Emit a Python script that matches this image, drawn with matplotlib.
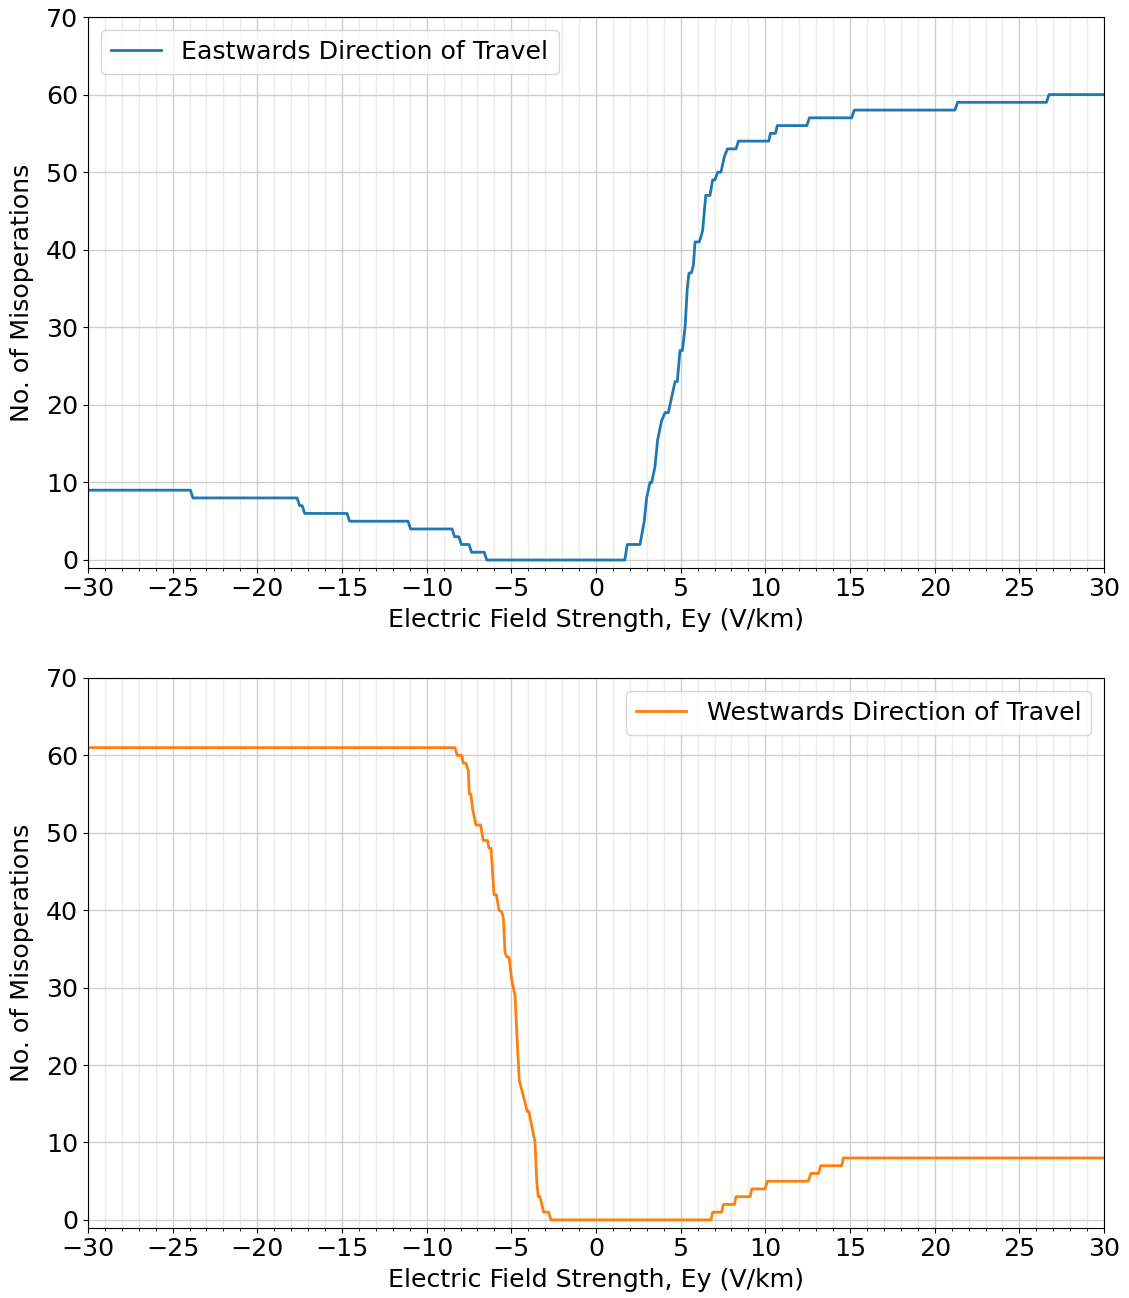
import matplotlib
matplotlib.use("Agg")
import matplotlib.pyplot as plt
from matplotlib.ticker import MultipleLocator

# Cumulative misoperation counts versus geoelectric field strength Ey (V/km)
east_ey = [-30, -23.95, -23.8, -17.65, -17.5, -17.35, -17.2, -14.7, -14.55,
           -11.1, -10.95, -8.5, -8.35, -8.1, -7.95, -7.5, -7.35, -6.6, -6.45,
           1.7, 1.85, 2.6, 2.85, 2.99, 3.19, 3.29, 3.48, 3.64, 3.88, 4.08,
           4.27, 4.47, 4.67, 4.8, 4.96, 5.1, 5.26, 5.39, 5.49, 5.63, 5.75,
           5.85, 6.1, 6.24, 6.3, 6.48, 6.73, 6.89, 7.02, 7.19, 7.38, 7.58,
           7.76, 8.27, 8.41, 10.2, 10.3, 10.6, 10.7, 12.45, 12.6, 15.1, 15.25,
           21.2, 21.35, 26.6, 26.75, 30]
east_count = [9, 9, 8, 8, 7, 7, 6, 6, 5,
              5, 4, 4, 3, 3, 2, 2, 1, 1, 0,
              0, 2, 2, 5, 8, 10, 10, 12, 15.5, 18, 19,
              19, 21, 23, 23, 27, 27, 30, 35, 37, 37, 38,
              41, 41, 42, 42.5, 47, 47, 49, 49, 50, 50, 52,
              53, 53, 54, 54, 55, 55, 56, 56, 57, 57, 58,
              58, 59, 59, 60, 60]

west_ey = [-30, -8.33, -8.19, -7.93, -7.84, -7.68, -7.54, -7.48, -7.39, -7.28,
           -7.09, -6.81, -6.66, -6.4, -6.32, -6.2, -6.02, -5.88, -5.73, -5.57,
           -5.47, -5.37, -5.27, -5.13, -4.98, -4.78, -4.65, -4.53, -4.29, -4.06,
           -3.96, -3.6, -3.5, -3.41, -3.31, -3.09, -2.8, -2.66,
           6.79, 6.89, 7.42, 7.52, 8.17, 8.27, 9.1, 9.2, 9.98, 10.12, 12.54,
           12.68, 13.13, 13.27, 14.51, 14.61, 30]
west_count = [61, 61, 60, 60, 59, 59, 58, 55, 55, 53,
              51, 51, 49, 49, 48, 48, 42, 42, 40, 39.8,
              39, 34.5, 34, 33.9, 31, 29, 23, 18, 16, 14,
              14, 10, 5, 3, 3, 1, 1, 0,
              0, 1, 1, 2, 2, 3, 3, 4, 4, 5, 5,
              6, 6, 7, 7, 8, 8]

x_ticks = list(range(-30, 31, 5))
y_ticks = list(range(0, 71, 10))

FS = 18.2
plt.rcParams["font.family"] = ["DejaVu Sans"]

fig = plt.figure(figsize=(11.29, 12.98), dpi=100)
ax_top = fig.add_axes([0.0779, 0.5626, 0.9, 0.4243])
ax_bot = fig.add_axes([0.0779, 0.0542, 0.9, 0.4235])

panels = [
    (ax_top, east_ey, east_count, "#1f77b4", "Eastwards Direction of Travel", "upper left"),
    (ax_bot, west_ey, west_count, "#ff7f0e", "Westwards Direction of Travel", "upper right"),
]

for ax, xs, ys, color, label, loc in panels:
    ax.plot(xs, ys, color=color, lw=2.0, label=label)
    ax.set_xlim(-30, 30)
    ax.set_ylim(-1, 70)
    ax.set_xticks(x_ticks)
    ax.set_yticks(y_ticks)
    ax.xaxis.set_minor_locator(MultipleLocator(1))
    ax.grid(which="major", color="#cfcfcf", lw=1.0)
    ax.grid(which="minor", axis="x", color="#ebebeb", lw=1.0)
    ax.set_axisbelow(True)
    ax.tick_params(axis="both", which="major", labelsize=FS)
    ax.set_xlabel("Electric Field Strength, Ey (V/km)", fontsize=FS, labelpad=5)
    ax.set_ylabel("No. of Misoperations", fontsize=FS, labelpad=9)
    ax.legend(loc=loc, fontsize=FS)

fig.savefig("out.png", dpi=100)
